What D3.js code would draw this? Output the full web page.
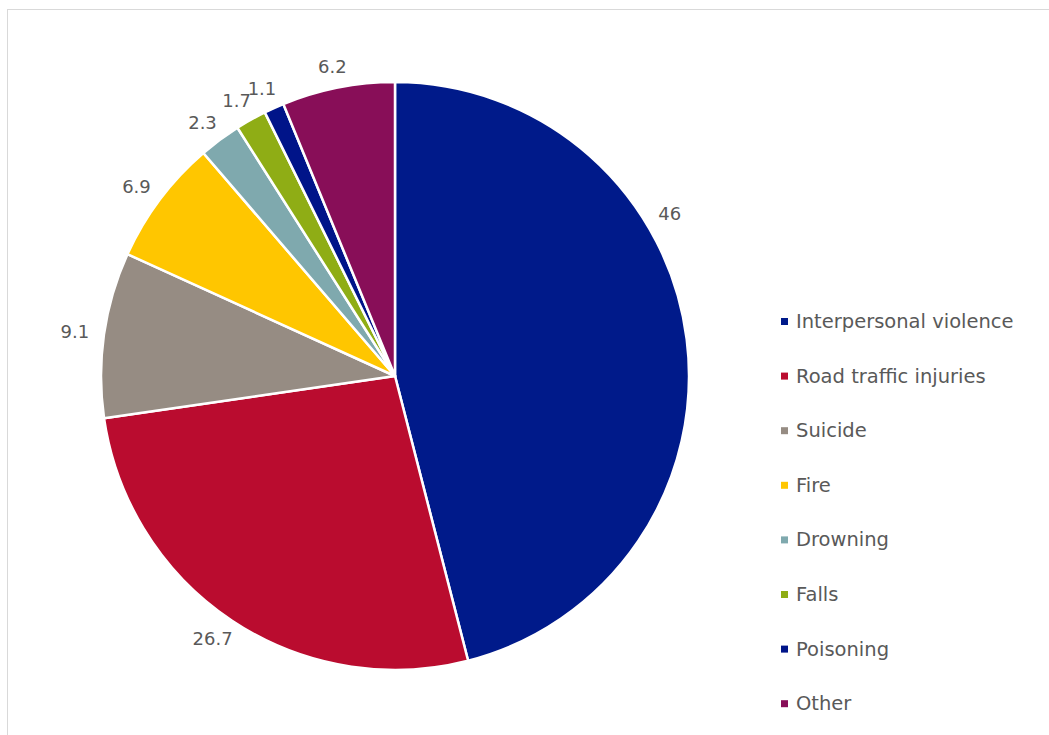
<!DOCTYPE html>
<html>
<head>
<meta charset="utf-8">
<script src="https://cdn.jsdelivr.net/npm/d3@7"></script>
<style>
  html, body { margin: 0; padding: 0; background: #fff; }
  svg { display: block; }
</style>
</head>
<body>
<svg id="chart" width="1049" height="735"></svg>
<script>
// ---- data ----
const categories = ["Interpersonal violence", "Road traffic injuries", "Suicide", "Fire", "Drowning", "Falls", "Poisoning", "Other"];
const values = [46, 26.7, 9.1, 6.9, 2.3, 1.7, 1.1, 6.2];
const labels = ["46", "26.7", "9.1", "6.9", "2.3", "1.7", "1.1", "6.2"];
const colors = ["#001A8A", "#BA0C2F", "#968C83", "#FFC600", "#7FA9AE", "#8FAD15", "#001489", "#880E58"];

// ---- layout ----
const svg = d3.select("#chart");
const cx = 395, cy = 376, R = 294;
const textColor = "#595959";
const font = "'DejaVu Sans', sans-serif";

// chart area border
svg.append("rect")
  .attr("x", 7.5).attr("y", 9.5)
  .attr("width", 1100).attr("height", 800)
  .attr("fill", "none").attr("stroke", "#d9d9d9").attr("stroke-width", 1);

const data = categories.map((c, i) => ({ name: c, value: values[i], label: labels[i], color: colors[i] }));

const pie = d3.pie().value(d => d.value).sort(null).startAngle(0).endAngle(2 * Math.PI);
const arcs = pie(data);
const arc = d3.arc().innerRadius(0).outerRadius(R);

const g = svg.append("g").attr("transform", `translate(${cx},${cy})`);

g.selectAll("path.slice")
  .data(arcs)
  .enter().append("path")
  .attr("class", "slice")
  .attr("d", arc)
  .attr("fill", d => d.data.color)
  .attr("stroke", "#ffffff")
  .attr("stroke-width", 2.5)
  .attr("stroke-linejoin", "round");

// data labels (outside end; the large slice is "best fit" moved toward its start)
const labelFont = 18;
const gap = 15;
const bigSliceLabelAngle = 59 * Math.PI / 180;
const lbl = g.selectAll("text.lbl")
  .data(arcs)
  .enter().append("text")
  .attr("class", "lbl")
  .attr("font-family", font)
  .attr("font-size", labelFont)
  .attr("fill", textColor)
  .attr("text-anchor", "middle")
  .attr("dominant-baseline", "central")
  .text(d => d.data.label);

lbl.each(function(d) {
  const el = d3.select(this);
  const w = this.getComputedTextLength();
  const h = labelFont * 0.75;
  let a = (d.startAngle + d.endAngle) / 2;
  if (d.endAngle - d.startAngle > Math.PI * 0.8) a = bigSliceLabelAngle;
  const dx = Math.sin(a), dy = -Math.cos(a);
  const x = dx * (R + gap) + dx * w / 2;
  const y = dy * (R + gap) + dy * h / 2;
  el.attr("x", x).attr("y", y);
});

// legend
const legendX = 781, legendY0 = 321.5, legendStep = 54.6;
const legend = svg.append("g");
const items = legend.selectAll("g.item")
  .data(data)
  .enter().append("g")
  .attr("class", "item")
  .attr("transform", (d, i) => `translate(${legendX},${legendY0 + i * legendStep})`);

items.append("rect")
  .attr("x", 0).attr("y", -3.5)
  .attr("width", 7).attr("height", 7)
  .attr("fill", d => d.color);

items.append("text")
  .attr("x", 15).attr("y", 0)
  .attr("dominant-baseline", "central")
  .attr("font-family", font)
  .attr("font-size", 19.5)
  .attr("fill", textColor)
  .text(d => d.name);
</script>
</body>
</html>
